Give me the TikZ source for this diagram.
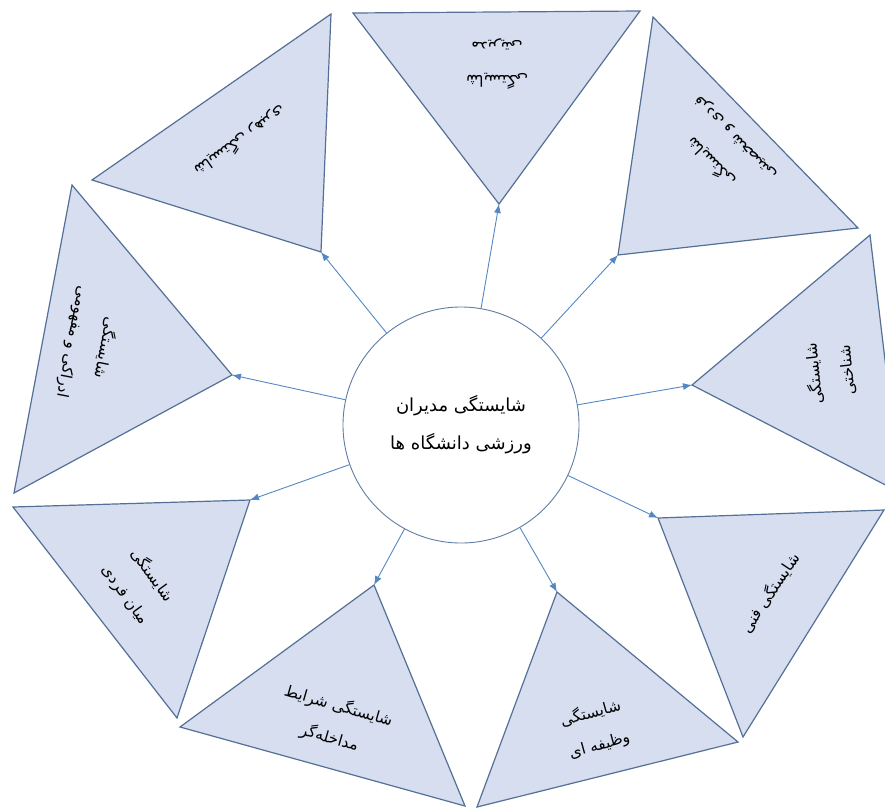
\documentclass[tikz,border=0pt]{standalone}
\usepackage{fontspec}
\newfontfamily\persianfont[Script=Arabic]{DejaVu Sans}
\TeXXeTstate=1
\newcommand{\fatxt}[1]{\beginR #1\endR}
\usetikzlibrary{arrows.meta}
\definecolor{trifill}{RGB}{214,222,240}
\definecolor{triedge}{RGB}{84,112,150}
\definecolor{arrowblue}{RGB}{84,135,195}
\definecolor{hubedge}{RGB}{96,125,165}

\begin{document}
\begin{tikzpicture}[x=1pt, y=1pt,
    tri/.style={fill=trifill, draw=triedge, line width=1.2pt},
    hub/.style={circle, draw=hubedge, fill=white, line width=0.9pt, minimum size=236pt, inner sep=0pt,
      align=center, font=\persianfont\fontsize{18}{38}\selectfont},
    lbl/.style={align=center, font=\persianfont\fontsize{15.5}{33}\selectfont},
    arr/.style={draw=arrowblue, line width=0.9pt, -{Latex[length=9pt,width=7pt]}}]
    \useasboundingbox (0,0) rectangle (885,-809);
    \clip (0,0) rectangle (885,-809);

    % nine triangles, each apex turned to the middle
    \draw[tri] (353,-13) -- (640,-11) -- (499,-204) coordinate (A1) -- cycle;
    \draw[tri] (653,-17) -- (858,-228) -- (618,-255) coordinate (A2) -- cycle;
    \draw[tri] (870,-235) -- (901,-493) -- (692,-385) coordinate (A3) -- cycle;
    \draw[tri] (884,-510) -- (743,-737) -- (658,-518) coordinate (A4) -- cycle;
    \draw[tri] (738,-742) -- (477,-807) -- (557,-592) coordinate (A5) -- cycle;
    \draw[tri] (465,-806) -- (180,-727) -- (374,-585) coordinate (A6) -- cycle;
    \draw[tri] (177,-718) -- (13,-507) -- (250,-500) coordinate (A7) -- cycle;
    \draw[tri] (14,-493) -- (72,-185) -- (232,-375) coordinate (A8) -- cycle;
    \draw[tri] (92,-180) -- (331,-14) -- (321,-252) coordinate (A9) -- cycle;

    \node[lbl, rotate=180] (T1) at (497,-64) {\fatxt{شایستگی}\\\fatxt{مدیریتی}};
    \node[lbl, rotate=134] (T2) at (723,-150) {\fatxt{شایستگی}\\\fatxt{فردی و شخصیتی}};
    \node[lbl, rotate=96] (T3) at (830,-372) {\fatxt{شایستگی}\\\fatxt{شناختی}};
    \node[lbl, rotate=56] (T4) at (770,-593) {\fatxt{شایستگی فنی}};
    \node[lbl, rotate=15.5] (T5) at (595,-729) {\fatxt{شایستگی}\\\fatxt{وظیفه ای}};
    \node[lbl, rotate=-16] (T6) at (334,-722) {\fatxt{شایستگی شرایط}\\\fatxt{مداخله‌گر}};
    \node[lbl, rotate=-54] (T7) at (139,-585) {\fatxt{شایستگی}\\\fatxt{میان فردی}};
    \node[lbl, rotate=-101] (T8) at (89,-345) {\fatxt{شایستگی}\\\fatxt{ادراکی و مفهومی}};
    \node[lbl, rotate=-145] (T9) at (240,-141) {\fatxt{شایستگی رهبری}};

    \node[hub] (C) at (461,-425) {\fatxt{شایستگی مدیران}\\\fatxt{ورزشی دانشگاه ها}};

    \draw[arr] (C) -- (A1);
    \draw[arr] (C) -- (A2);
    \draw[arr] (C) -- (A3);
    \draw[arr] (C) -- (A4);
    \draw[arr] (C) -- (A5);
    \draw[arr] (C) -- (A6);
    \draw[arr] (C) -- (A7);
    \draw[arr] (C) -- (A8);
    \draw[arr] (C) -- (A9);
\end{tikzpicture}
\end{document}
